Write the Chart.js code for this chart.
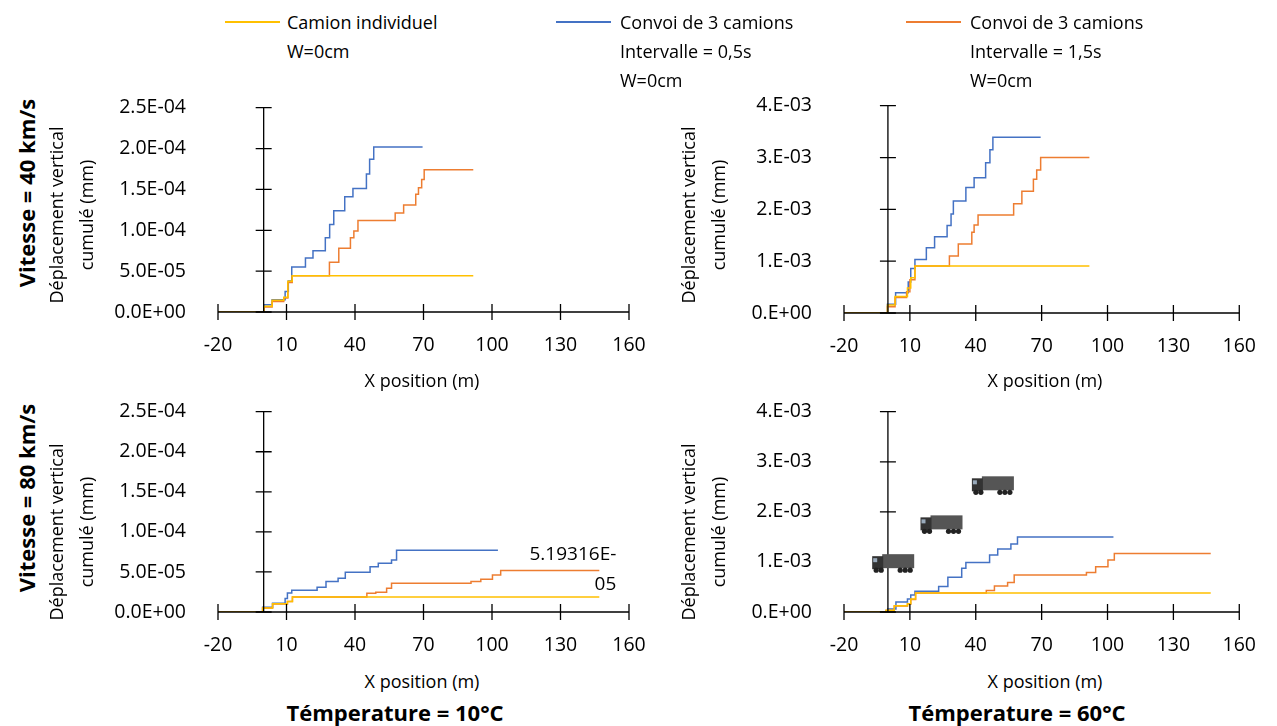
<!DOCTYPE html>
<html><head><meta charset="utf-8">
<script src="https://cdn.jsdelivr.net/npm/chart.js@4"></script>
<style>
body{margin:0;width:1277px;height:726px;background:#fff;position:relative;overflow:hidden;font-family:"Open Sans","Liberation Sans",sans-serif;color:#000}
canvas{position:absolute}
.t{position:absolute;font-size:18px;white-space:nowrap;line-height:29px}
.rot{position:absolute;transform:translate(-50%,-50%) rotate(-90deg);white-space:nowrap;font-size:18px;line-height:30px;text-align:center}
.c{position:absolute;transform:translateX(-50%);white-space:nowrap;font-size:18px}
.b{font-weight:bold;font-size:22px}
.lg{position:absolute;height:2px;width:55px}
</style></head><body>
<canvas id="c1"></canvas><canvas id="c2"></canvas><canvas id="c3"></canvas><canvas id="c4"></canvas>
<div class="lg" style="left:225px;top:21px;background:#FFC000"></div>
<div class="t" style="left:287px;top:8px">Camion individuel<br>W=0cm</div>
<div class="lg" style="left:556px;top:21px;background:#4472C4"></div>
<div class="t" style="left:620px;top:8px">Convoi de 3 camions<br>Intervalle = 0,5s<br>W=0cm</div>
<div class="lg" style="left:906px;top:21px;background:#ED7D31"></div>
<div class="t" style="left:970px;top:8px">Convoi de 3 camions<br>Intervalle = 1,5s<br>W=0cm</div>

<div class="rot b" style="left:26px;top:193px">Vitesse = 40 km/s</div>
<div class="rot b" style="left:26px;top:498px">Vitesse = 80 km/s</div>
<div class="rot" style="left:71px;top:215px">Déplacement vertical<br>cumulé (mm)</div>
<div class="rot" style="left:71px;top:532px">Déplacement vertical<br>cumulé (mm)</div>
<div class="rot" style="left:703px;top:215px">Déplacement vertical<br>cumulé (mm)</div>
<div class="rot" style="left:703px;top:532px">Déplacement vertical<br>cumulé (mm)</div>
<div class="c" style="left:422px;top:368px">X position (m)</div>
<div class="c" style="left:1045px;top:368px">X position (m)</div>
<div class="c" style="left:422px;top:669px">X position (m)</div>
<div class="c" style="left:1045px;top:669px">X position (m)</div>
<div class="c b" style="left:395px;top:697px">Témperature = 10°C</div>
<div class="c b" style="left:1017px;top:697px">Témperature = 60°C</div>

<script>
// step points: [x where value jumps, new value]
const xTicksMin = -20, xTicksMax = 160, xStep = 30;

const tl_single = [[-20,0],[0.1,6.9e-6],[3.7,1.43e-5],[8.8,1.8e-5],[10.6,3.76e-5],[12.5,4.45e-5],[91.8,4.45e-5]];
const tl_conv05 = [[-20,0],[0.1,9e-6],[3.7,1.5e-5],[9.4,2.5e-5],[10.8,3.8e-5],[12.3,5.5e-5],[18.3,6.6e-5],[21.6,7.5e-5],[27.0,9.1e-5],[28.9,1.07e-4],[30.7,1.24e-4],[35.5,1.41e-4],[39.1,1.51e-4],[45.0,1.69e-4],[46.4,1.87e-4],[48.2,2.02e-4],[69.6,2.02e-4]];
const tl_conv15 = [[-20,0],[0.1,6.0e-6],[3.7,1.3e-5],[8.8,1.7e-5],[10.6,3.6e-5],[12.5,4.45e-5],[28.8,6.1e-5],[32.9,7.8e-5],[38.0,9.1e-5],[39.5,9.9e-5],[41.3,1.12e-4],[57.6,1.21e-4],[61.3,1.31e-4],[66.6,1.44e-4],[67.8,1.52e-4],[69.2,1.62e-4],[70.3,1.74e-4],[91.8,1.74e-4]];

const tr_single = [[-20,0],[-0.2,1.56e-4],[3.25,3.2e-4],[8.9,4.8e-4],[10.4,6.8e-4],[12.3,9.05e-4],[91.75,9.05e-4]];
const tr_conv05 = [[-20,0],[-0.2,1.7e-4],[3.5,3.9e-4],[9.25,6.0e-4],[10.4,8.6e-4],[12.3,1.03e-3],[17.5,1.26e-3],[21.25,1.47e-3],[26.95,1.69e-3],[28.75,1.91e-3],[29.8,2.16e-3],[35.5,2.42e-3],[39.25,2.61e-3],[44.5,2.90e-3],[46.45,3.15e-3],[47.8,3.39e-3],[69.55,3.39e-3]];
const tr_conv15 = [[-20,0],[-0.2,1.2e-4],[3.25,3.0e-4],[8.5,4.1e-4],[10.0,6.4e-4],[12.3,9.05e-4],[28.0,1.10e-3],[32.05,1.33e-3],[38.2,1.56e-3],[39.25,1.70e-3],[41.05,1.89e-3],[57.25,2.11e-3],[61.0,2.35e-3],[66.25,2.58e-3],[67.75,2.76e-3],[69.55,3.0e-3],[91.75,3.0e-3]];

const bl_single = [[-20,0],[-0.45,5e-6],[3.9,1.03e-5],[10.4,1.32e-5],[12.6,1.86e-5],[147.0,1.86e-5]];
const bl_conv05 = [[-20,0],[-0.45,6e-6],[3.9,1.1e-5],[9.4,1.7e-5],[10.4,2.36e-5],[12.3,2.7e-5],[23.4,3.1e-5],[27.3,3.8e-5],[32.6,4.2e-5],[35.75,4.96e-5],[46.6,5.66e-5],[50.2,6.07e-5],[56.0,6.48e-5],[58.2,7.72e-5],[102.6,7.72e-5]];
const bl_conv15 = [[-20,0],[-0.45,5e-6],[3.9,1.0e-5],[10.4,1.3e-5],[12.6,1.86e-5],[45.2,2.35e-5],[49.1,2.48e-5],[53.85,2.97e-5],[56.0,3.6e-5],[90.8,3.8e-5],[95.1,4.09e-5],[100.2,4.63e-5],[103.8,5.19316e-5],[147.0,5.19316e-5]];

const br_single = [[-20,0],[-0.85,3.3e-5],[2.9,1.26e-4],[8.9,1.65e-4],[10.4,2.58e-4],[12.6,3.77e-4],[147.0,3.77e-4]];
const br_conv05 = [[-20,0],[-0.1,6.0e-5],[3.65,1.98e-4],[8.9,2.58e-4],[10.4,3.4e-4],[12.3,4.16e-4],[23.1,5.09e-4],[27.3,6.94e-4],[33.6,8.73e-4],[35.5,9.9e-4],[46.3,1.14e-3],[50.0,1.26e-3],[56.0,1.36e-3],[59.0,1.50e-3],[102.7,1.50e-3]];
const br_conv15 = [[-20,0],[-0.85,3.0e-5],[2.9,1.2e-4],[8.9,1.6e-4],[10.4,2.5e-4],[12.6,3.77e-4],[44.8,4.3e-4],[48.5,5.2e-4],[54.5,5.9e-4],[57.5,7.4e-4],[90.4,7.9e-4],[94.6,9.06e-4],[100.2,1.04e-3],[103.1,1.17e-3],[147.0,1.17e-3]];

const trucks = [[2.4,9.75e-4],[24.4,1.75e-3],[47.8,2.53e-3]];

const COL = {single:'#FFC000', c05:'#4472C4', c15:'#ED7D31'};

function fmt1(v){
  if (v===0) return '0.0E+00';
  let e=Math.floor(Math.log10(Math.abs(v))+1e-9); let m=v/Math.pow(10,e);
  return m.toFixed(1)+'E'+(e<0?'-':'+')+String(Math.abs(e)).padStart(2,'0');
}
function fmt0(v){
  if (v===0) return '0.E+00';
  let e=Math.floor(Math.log10(Math.abs(v))+1e-9); let m=v/Math.pow(10,e);
  return Math.round(m)+'.E'+(e<0?'-':'+')+String(Math.abs(e)).padStart(2,'0');
}

const axesPlugin = {
  id:'axesCross',
  afterDatasetsDraw(chart){
    const {ctx, chartArea:a, scales:{x,y}} = chart;
    ctx.save(); ctx.strokeStyle='#000'; ctx.lineWidth=1.3;
    const x0 = x.getPixelForValue(0);
    ctx.beginPath(); ctx.moveTo(a.left,a.bottom); ctx.lineTo(a.right,a.bottom);
    ctx.moveTo(x0,a.top); ctx.lineTo(x0,a.bottom); ctx.stroke();
    ctx.beginPath();
    x.ticks.forEach(t=>{const p=x.getPixelForValue(t.value); ctx.moveTo(p,a.bottom-8); ctx.lineTo(p,a.bottom+8);});
    y.ticks.forEach(t=>{const p=y.getPixelForValue(t.value); ctx.moveTo(x0-8,p); ctx.lineTo(x0+8,p);});
    ctx.stroke();
    const o = chart.options.plugins.axesCross||{};
    if (o.label){
      const d = chart.data.datasets[o.label.ds].data; const last=d[d.length-1];
      const px=x.getPixelForValue(last.x), py=y.getPixelForValue(last.y);
      ctx.fillStyle='#000'; ctx.font='19px "Open Sans", sans-serif'; ctx.textAlign='right'; ctx.textBaseline='middle';
      ctx.fillText('5.19316E-', px+17, py-16); ctx.fillText('05', px+17, py+14);
    }
    if (o.trucks){
      o.trucks.forEach(([tx,ty])=>{
        const cx=x.getPixelForValue(tx), cy=y.getPixelForValue(ty);
        const l=cx-21, t=cy-9;
        ctx.fillStyle='#555'; ctx.fillRect(l+10,t,32,14);
        ctx.fillStyle='#333'; ctx.fillRect(l,t+2,11,13);
        ctx.fillStyle='#9ab'; ctx.fillRect(l+1,t+4,4,4);
        ctx.fillStyle='#222';
        [l+4,l+9,l+28,l+33,l+38].forEach(wx=>{ctx.beginPath(); ctx.arc(wx,t+16,2.6,0,Math.PI*2); ctx.fill();});
      });
    }
    ctx.restore();
  }
};

function make(id, L,T,W,H, plot, yMax, yStep, fmt, s1,s2,s3, extra){
  T -= 20; H += 20;
  const cv=document.getElementById(id);
  cv.style.left=L+'px'; cv.style.top=T+'px'; cv.style.width=W+'px'; cv.style.height=H+'px';
  cv.width=W; cv.height=H;
  const toPts=a=>a.map(p=>({x:p[0],y:p[1]}));
  const ds=(d,c)=>({data:toPts(d),borderColor:c,borderWidth:1.5,pointRadius:0,stepped:'before',fill:false});
  new Chart(cv,{type:'line',
    data:{datasets:[ds(s1,COL.single),ds(s3,COL.c15),ds(s2,COL.c05)]},
    options:{responsive:false,animation:false,
      layout:{padding:{left:0,top:plot.t-T-20,right:L+W-plot.r,bottom:0}},
      plugins:{legend:{display:false},tooltip:{enabled:false},axesCross:extra||{}},
      scales:{
        x:{type:'linear',min:xTicksMin,max:xTicksMax,ticks:{stepSize:xStep,color:'#000',font:{size:19.5,family:'"Open Sans", sans-serif'},padding:14,maxRotation:0},
           grid:{display:false},border:{display:false},afterFit:s=>{s.height=T+H-plot.b;}},
        y:{min:0,max:yMax,ticks:{stepSize:yStep,color:'#000',font:{size:19.5,family:'"Open Sans", sans-serif'},padding:24,callback:v=>fmt(v)},
           grid:{display:false},border:{display:false},afterFit:s=>{s.width=plot.l-L;}}
      }},
    plugins:[axesPlugin]});
}
make('c1',95,92,565,273,{l:218,r:629,t:107,b:312},2.5e-4,5e-5,fmt1,tl_single,tl_conv05,tl_conv15);
make('c2',730,90,540,276,{l:844,r:1245,t:104,b:313},4e-3,1e-3,fmt0,tr_single,tr_conv05,tr_conv15);
make('c3',95,396,565,269,{l:218,r:629,t:411,b:612},2.5e-4,5e-5,fmt1,bl_single,bl_conv05,bl_conv15,{label:{ds:1}});
make('c4',730,396,540,269,{l:844,r:1245,t:411,b:612},4e-3,1e-3,fmt0,br_single,br_conv05,br_conv15,{trucks:trucks});
</script></body></html>
